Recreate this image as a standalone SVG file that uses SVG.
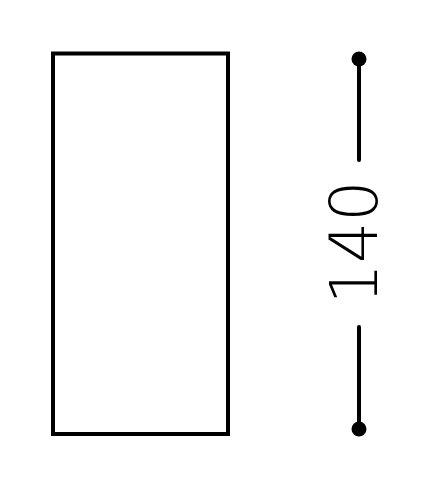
<svg xmlns="http://www.w3.org/2000/svg" width="428" height="487" viewBox="0 0 428 487">
<style>
.ln{stroke:#000;stroke-width:4;fill:none}
.dot{fill:#000}
.lbl{font-family:"DejaVu Sans","Liberation Sans",sans-serif;font-weight:200;font-size:65px;fill:#000}
</style>
<rect width="428" height="487" fill="#fff"/>
<g id="rect">
<rect class="ln" x="53" y="53.5" width="175" height="380.5"/>
</g>
<g id="connectors">
<line class="ln" x1="359" y1="59" x2="359" y2="160" stroke-linecap="round"/>
<line class="ln" x1="359" y1="327" x2="359" y2="429" stroke-linecap="round"/>
<circle class="dot" cx="359" cy="59" r="7.5"/>
<circle class="dot" cx="359" cy="429" r="7.5"/>
</g>
<g id="label">
<text class="lbl" transform="translate(377,242.5) rotate(-90)" text-anchor="middle">140</text>
</g>
</svg>
